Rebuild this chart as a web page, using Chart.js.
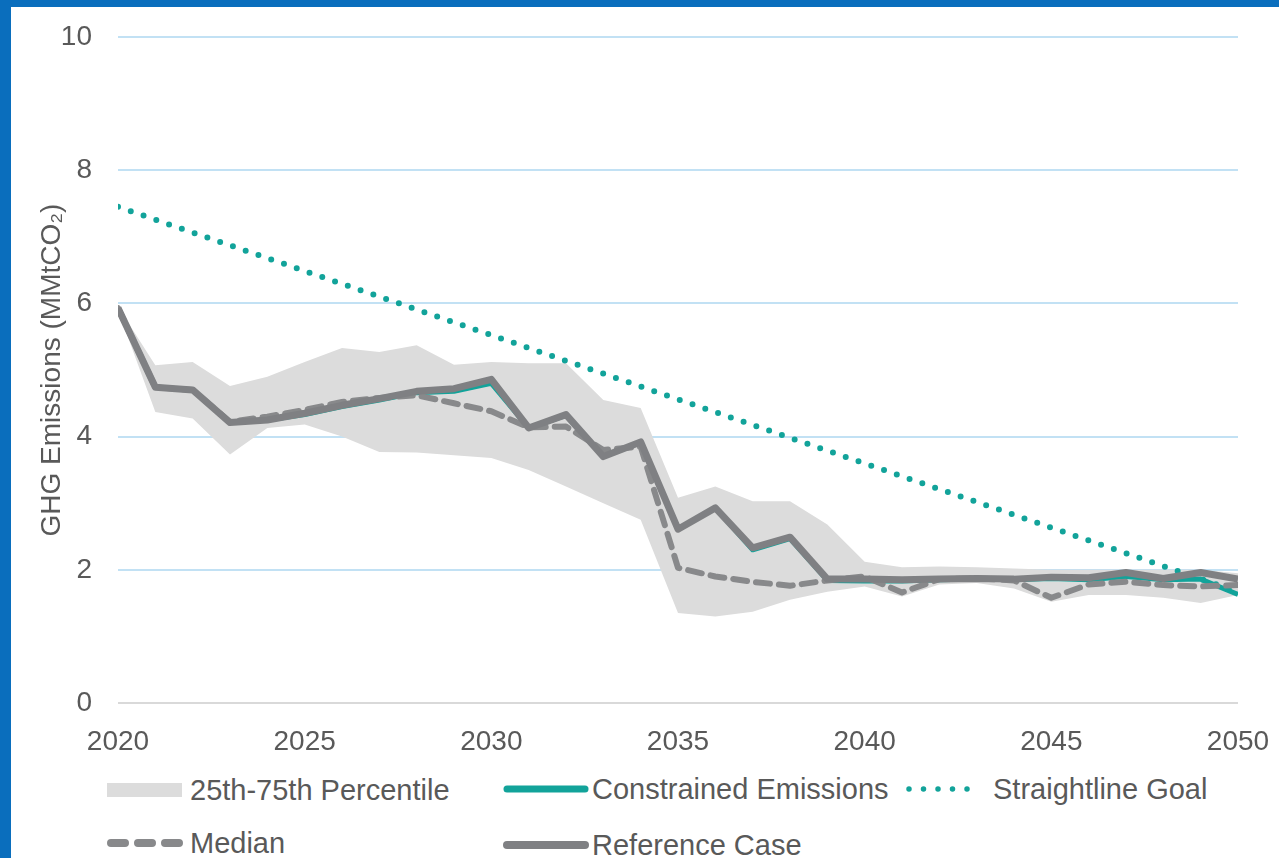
<!DOCTYPE html>
<html>
<head>
<meta charset="utf-8">
<script src="https://cdn.jsdelivr.net/npm/chart.js@4"></script>
<style>
    html, body { margin: 0; padding: 0; background: #fff; }
    body { width: 1279px; height: 858px; position: relative; overflow: hidden; font-family: "Liberation Sans", Arial, sans-serif; }
    .frame-left { position: absolute; left: 0; top: 0; width: 11px; height: 858px; background: #0a6ebd; }
    .frame-top { position: absolute; left: 0; top: 0; width: 1279px; height: 7px; background: #0a6ebd; }
    #wrap { position: absolute; left: 11px; top: 7px; width: 1268px; height: 751px; }
    .lg-text { position: absolute; font-size: 29px; line-height: 29px; color: #595959; white-space: nowrap; }
    .lg-sw { position: absolute; }
</style>
</head>
<body>
<div class="frame-left"></div>
<div class="frame-top"></div>
<div id="wrap"><canvas id="ghgChart"></canvas></div>
<div id="legend"></div>
<script>
        // Years on the x axis
        const years = [2020, 2021, 2022, 2023, 2024, 2025, 2026, 2027, 2028, 2029, 2030,
                       2031, 2032, 2033, 2034, 2035, 2036, 2037, 2038, 2039, 2040,
                       2041, 2042, 2043, 2044, 2045, 2046, 2047, 2048, 2049, 2050];

        // 25th-75th percentile band
        const bandUpper = [5.95, 5.07, 5.12, 4.76, 4.90, 5.12, 5.33, 5.27, 5.37, 5.08, 5.12,
                           5.10, 5.10, 4.55, 4.43, 3.08, 3.25, 3.03, 3.03, 2.68, 2.12,
                           2.04, 2.05, 2.04, 2.02, 2.00, 2.00, 2.00, 2.00, 2.00, 1.95];
        const bandLower = [5.90, 4.37, 4.27, 3.73, 4.13, 4.18, 4.00, 3.77, 3.76, 3.72, 3.68,
                           3.50, 3.25, 3.00, 2.75, 1.35, 1.30, 1.37, 1.55, 1.67, 1.75,
                           1.60, 1.78, 1.80, 1.72, 1.52, 1.62, 1.62, 1.58, 1.50, 1.62];

        const constrained = [5.93, 4.74, 4.70, 4.21, 4.25, 4.33, 4.45, 4.55, 4.66, 4.68, 4.80,
                             4.13, 4.32, 3.70, 3.92, 2.61, 2.93, 2.30, 2.47, 1.84, 1.83,
                             1.83, 1.85, 1.86, 1.85, 1.87, 1.85, 1.90, 1.85, 1.86, 1.63];

        const median = [5.93, 4.74, 4.70, 4.22, 4.30, 4.40, 4.52, 4.58, 4.62, 4.50, 4.38,
                        4.14, 4.15, 3.80, 3.85, 2.03, 1.90, 1.82, 1.76, 1.84, 1.90,
                        1.66, 1.86, 1.87, 1.84, 1.58, 1.78, 1.82, 1.77, 1.75, 1.77];

        const referenceCase = [5.93, 4.74, 4.70, 4.21, 4.25, 4.35, 4.47, 4.57, 4.68, 4.72, 4.86,
                               4.13, 4.33, 3.70, 3.92, 2.61, 2.93, 2.33, 2.49, 1.86, 1.86,
                               1.85, 1.86, 1.87, 1.86, 1.89, 1.88, 1.96, 1.87, 1.96, 1.86];

        // Straightline goal: start and end points
        const goalYears = [2020, 2050];
        const goalValues = [7.45, 1.67];

        const yTicks = [0, 2, 4, 6, 8, 10];
        const xTicks = [2020, 2025, 2030, 2035, 2040, 2045, 2050];

        const TEAL = '#12a39a';
        const GRAY = '#7f8083';
        const DASH_GRAY = '#88898b';
        const BAND = '#dcdcdc';
        const TEXT = '#595959';

        function toPoints(xs, ys) {
            return xs.map((x, i) => ({ x: x, y: ys[i] }));
        }

        // drop the label overhang padding so layout.padding decides the plot box
        function clearPadding(scale) {
            scale.paddingTop = 0;
            scale.paddingBottom = 0;
            scale.paddingLeft = 0;
            scale.paddingRight = 0;
        }

        const ctx = document.getElementById('ghgChart').getContext('2d');

        const ghgChart = new Chart(ctx, {
            type: 'line',
            data: {
                datasets: [{
                    label: 'Reference Case',
                    data: toPoints(years, referenceCase),
                    borderColor: GRAY,
                    borderWidth: 7,
                    borderJoinStyle: 'round',
                    fill: false,
                    order: 0
                }, {
                    label: 'Median',
                    data: toPoints(years, median),
                    borderColor: DASH_GRAY,
                    borderWidth: 6,
                    borderDash: [14, 9],
                    borderCapStyle: 'round',
                    borderJoinStyle: 'round',
                    fill: false,
                    order: 1
                }, {
                    label: 'Constrained Emissions',
                    data: toPoints(years, constrained),
                    borderColor: TEAL,
                    borderWidth: 5,
                    borderJoinStyle: 'round',
                    fill: false,
                    order: 2
                }, {
                    label: 'Straightline Goal',
                    data: toPoints(goalYears, goalValues),
                    borderColor: TEAL,
                    borderWidth: 6,
                    borderDash: [0, 13.5],
                    borderCapStyle: 'round',
                    fill: false,
                    order: 3
                }, {
                    label: '25th-75th Percentile',
                    data: toPoints(years, bandUpper),
                    borderWidth: 0,
                    borderColor: 'rgba(0,0,0,0)',
                    backgroundColor: BAND,
                    fill: '+1',
                    order: 4
                }, {
                    label: 'band-lower',
                    data: toPoints(years, bandLower),
                    borderWidth: 0,
                    borderColor: 'rgba(0,0,0,0)',
                    fill: false,
                    order: 5
                }]
            },
            options: {
                responsive: true,
                maintainAspectRatio: false,
                animation: false,
                elements: {
                    point: { radius: 0, hoverRadius: 0 },
                    line: { tension: 0 }
                },
                layout: {
                    padding: { top: 30, right: 41, bottom: 0, left: 0 }
                },
                plugins: {
                    legend: { display: false },
                    tooltip: { enabled: false }
                },
                scales: {
                    x: {
                        type: 'linear',
                        min: 2020,
                        max: 2050,
                        afterBuildTicks: function(scale) {
                            scale.ticks = xTicks.map(v => ({ value: v }));
                        },
                        afterFit: function(scale) {
                            scale.height = 55;
                            clearPadding(scale);
                        },
                        grid: { display: false, drawTicks: false },
                        border: { display: false },
                        ticks: {
                            color: TEXT,
                            padding: 22,
                            maxRotation: 0,
                            font: { family: '"Liberation Sans", Arial, sans-serif', size: 28 },
                            callback: function(value) { return String(value); }
                        }
                    },
                    y: {
                        min: 0,
                        max: 10,
                        afterBuildTicks: function(scale) {
                            scale.ticks = yTicks.map(v => ({ value: v }));
                        },
                        afterFit: function(scale) {
                            scale.width = 107;
                            clearPadding(scale);
                        },
                        grid: {
                            drawTicks: false,
                            lineWidth: 2,
                            color: function(c) {
                                return c.tick && c.tick.value === 0 ? '#d9d9d9' : '#c2e1f4';
                            }
                        },
                        border: { display: false },
                        title: {
                            display: true,
                            text: 'GHG Emissions (MMtCO\u2082)',
                            color: TEXT,
                            padding: { top: 24, bottom: 0 },
                            font: { family: '"Liberation Sans", Arial, sans-serif', size: 28 }
                        },
                        ticks: {
                            color: TEXT,
                            padding: 26,
                            font: { family: '"Liberation Sans", Arial, sans-serif', size: 28 }
                        }
                    }
                }
            }
        });

        // Legend swatches drawn as inline svg, laid out like the source figure
        const legendItems = [
            { label: '25th-75th Percentile', kind: 'box', sx: 107, tx: 190, cy: 790 },
            { label: 'Constrained Emissions', kind: 'teal', sx: 503, tx: 592, cy: 789 },
            { label: 'Straightline Goal', kind: 'dots', sx: 905, tx: 993, cy: 789 },
            { label: 'Median', kind: 'dash', sx: 107, tx: 190, cy: 843 },
            { label: 'Reference Case', kind: 'gray', sx: 503, tx: 592, cy: 845 }
        ];

        function swatchSvg(kind) {
            if (kind === 'box') {
                return '<svg width="76" height="16"><rect x="0" y="1" width="75" height="14" fill="' + BAND + '"/></svg>';
            }
            if (kind === 'teal') {
                return '<svg width="86" height="16"><line x1="4" y1="8" x2="82" y2="8" stroke="' + TEAL + '" stroke-width="7" stroke-linecap="round"/></svg>';
            }
            if (kind === 'gray') {
                return '<svg width="86" height="16"><line x1="4" y1="8" x2="82" y2="8" stroke="' + GRAY + '" stroke-width="8" stroke-linecap="round"/></svg>';
            }
            if (kind === 'dash') {
                return '<svg width="80" height="16"><line x1="4" y1="8" x2="76" y2="8" stroke="' + DASH_GRAY + '" stroke-width="8" stroke-linecap="round" stroke-dasharray="14 13"/></svg>';
            }
            return '<svg width="80" height="16"><line x1="4" y1="8" x2="76" y2="8" stroke="' + TEAL + '" stroke-width="5.5" stroke-linecap="round" stroke-dasharray="0 14.5"/></svg>';
        }

        const legendEl = document.getElementById('legend');
        legendItems.forEach(item => {
            const sw = document.createElement('div');
            sw.className = 'lg-sw';
            sw.style.left = item.sx + 'px';
            sw.style.top = (item.cy - 8) + 'px';
            sw.innerHTML = swatchSvg(item.kind);
            legendEl.appendChild(sw);

            const tx = document.createElement('div');
            tx.className = 'lg-text';
            tx.style.left = item.tx + 'px';
            tx.style.top = (item.cy - 14.5) + 'px';
            tx.textContent = item.label;
            legendEl.appendChild(tx);
        });
</script>
</body>
</html>
